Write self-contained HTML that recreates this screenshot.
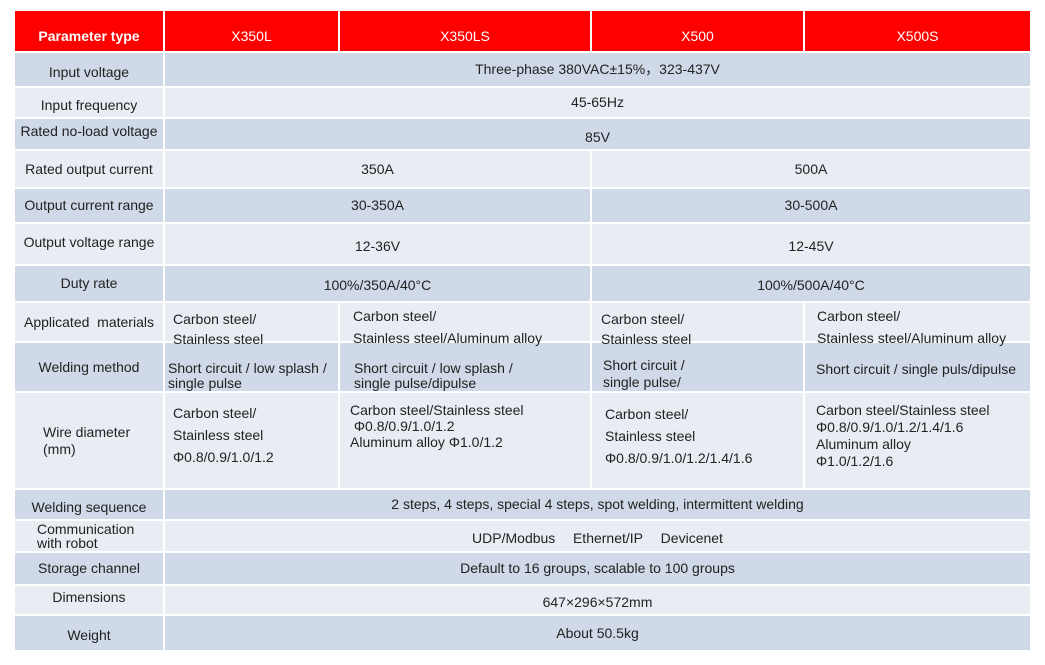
<!DOCTYPE html>
<html><head><style>
body{margin:0;width:1045px;height:665px;background:#fff;position:relative;overflow:hidden;font-family:"Liberation Sans","Noto Sans CJK SC",sans-serif;font-size:14px;color:#222;}
.c{position:absolute;box-sizing:border-box;border-right:2px solid #fff;border-bottom:2px solid #fff;display:flex;align-items:center;justify-content:center;text-align:center;line-height:17px;}
.h{background:#ff0000;color:#fff;padding-top:10px;}
.d{background:#cfd9e7;}
.l{background:#e8ecf3;}
.t{position:absolute;line-height:17px;white-space:nowrap;z-index:5;}
</style></head><body>
<div class="c h" style="left:15px;top:11px;width:150px;height:42px;font-weight:bold">Parameter type</div>
<div class="c h" style="left:165px;top:11px;width:175px;height:42px">X350L</div>
<div class="c h" style="left:340px;top:11px;width:252px;height:42px">X350LS</div>
<div class="c h" style="left:592px;top:11px;width:213px;height:42px">X500</div>
<div class="c h" style="left:805px;top:11px;width:227px;height:42px">X500S</div>

<div class="c d" style="left:15px;top:53px;width:150px;height:35px;padding-top:6px">Input voltage</div>
<div class="c d" style="left:165px;top:53px;width:867px;height:35px">Three-phase 380VAC±15%，323-437V</div>
<div class="c l" style="left:15px;top:88px;width:150px;height:31px;padding-top:6px">Input frequency</div>
<div class="c l" style="left:165px;top:88px;width:867px;height:31px">45-65Hz</div>
<div class="c d" style="left:15px;top:119px;width:150px;height:32px;padding-bottom:6px">Rated no-load voltage</div>
<div class="c d" style="left:165px;top:119px;width:867px;height:32px;padding-top:6px">85V</div>
<div class="c l" style="left:15px;top:151px;width:150px;height:38px">Rated output current</div>
<div class="c l" style="left:165px;top:151px;width:427px;height:38px">350A</div>
<div class="c l" style="left:592px;top:151px;width:440px;height:38px">500A</div>
<div class="c d" style="left:15px;top:189px;width:150px;height:35px">Output current range</div>
<div class="c d" style="left:165px;top:189px;width:427px;height:35px">30-350A</div>
<div class="c d" style="left:592px;top:189px;width:440px;height:35px">30-500A</div>
<div class="c l" style="left:15px;top:224px;width:150px;height:42px;padding-bottom:4px">Output voltage range</div>
<div class="c l" style="left:165px;top:224px;width:427px;height:42px;padding-top:4px">12-36V</div>
<div class="c l" style="left:592px;top:224px;width:440px;height:42px;padding-top:4px">12-45V</div>
<div class="c d" style="left:15px;top:266px;width:150px;height:37px">Duty rate</div>
<div class="c d" style="left:165px;top:266px;width:427px;height:37px;padding-top:4px">100%/350A/40°C</div>
<div class="c d" style="left:592px;top:266px;width:440px;height:37px;padding-top:4px">100%/500A/40°C</div>

<div class="c l" style="left:15px;top:303px;width:150px;height:40px">Applicated&nbsp; materials</div>
<div class="c l" style="left:165px;top:303px;width:175px;height:40px"></div>
<div class="c l" style="left:340px;top:303px;width:252px;height:40px"></div>
<div class="c l" style="left:592px;top:303px;width:213px;height:40px"></div>
<div class="c l" style="left:805px;top:303px;width:227px;height:40px"></div>
<div class="t" style="left:173px;top:309px;line-height:20px">Carbon steel/<br>Stainless steel</div>
<div class="t" style="left:353px;top:305px;line-height:22px">Carbon steel/<br>Stainless steel/Aluminum alloy</div>
<div class="t" style="left:601px;top:309px;line-height:20px">Carbon steel/<br>Stainless steel</div>
<div class="t" style="left:817px;top:305px;line-height:22px">Carbon steel/<br>Stainless steel/Aluminum alloy</div>

<div class="c d" style="left:15px;top:343px;width:150px;height:50px">Welding method</div>
<div class="c d" style="left:165px;top:343px;width:175px;height:50px"></div>
<div class="c d" style="left:340px;top:343px;width:252px;height:50px"></div>
<div class="c d" style="left:592px;top:343px;width:213px;height:50px"></div>
<div class="c d" style="left:805px;top:343px;width:227px;height:50px"></div>
<div class="t" style="left:168px;top:361px;line-height:15px">Short circuit / low splash /<br>single pulse</div>
<div class="t" style="left:354px;top:361px;line-height:15px">Short circuit / low splash /<br>single pulse/dipulse</div>
<div class="t" style="left:603px;top:357px;line-height:17px">Short circuit /<br>single pulse/</div>
<div class="t" style="left:816px;top:361px">Short circuit / single puls/dipulse</div>

<div class="c l" style="left:15px;top:393px;width:150px;height:97px;justify-content:flex-start;padding-left:28px;text-align:left">Wire diameter<br>(mm)</div>
<div class="c l" style="left:165px;top:393px;width:175px;height:97px"></div>
<div class="c l" style="left:340px;top:393px;width:252px;height:97px"></div>
<div class="c l" style="left:592px;top:393px;width:213px;height:97px"></div>
<div class="c l" style="left:805px;top:393px;width:227px;height:97px"></div>
<div class="t" style="left:173px;top:402px;line-height:22px">Carbon steel/<br>Stainless steel<br>Φ0.8/0.9/1.0/1.2</div>
<div class="t" style="left:350px;top:402px;line-height:16px">Carbon steel/Stainless steel<br>&nbsp;Φ0.8/0.9/1.0/1.2<br>Aluminum alloy Φ1.0/1.2</div>
<div class="t" style="left:605px;top:403px;line-height:22px">Carbon steel/<br>Stainless steel<br>Φ0.8/0.9/1.0/1.2/1.4/1.6</div>
<div class="t" style="left:816px;top:402px;line-height:17px">Carbon steel/Stainless steel<br>Φ0.8/0.9/1.0/1.2/1.4/1.6<br>Aluminum alloy<br>Φ1.0/1.2/1.6</div>

<div class="c d" style="left:15px;top:490px;width:150px;height:31px;padding-top:6px">Welding sequence</div>
<div class="c d" style="left:165px;top:490px;width:867px;height:31px">2 steps, 4 steps, special 4 steps, spot welding, intermittent welding</div>
<div class="c l" style="left:15px;top:521px;width:150px;height:32px;line-height:14px;justify-content:flex-start;padding-left:22px;text-align:left">Communication<br>with robot</div>
<div class="c l" style="left:165px;top:521px;width:867px;height:32px;padding-top:4px;word-spacing:2px">UDP/Modbus&nbsp;&nbsp; Ethernet/IP&nbsp;&nbsp; Devicenet</div>
<div class="c d" style="left:15px;top:553px;width:150px;height:33px">Storage channel</div>
<div class="c d" style="left:165px;top:553px;width:867px;height:33px">Default to 16 groups, scalable to 100 groups</div>
<div class="c l" style="left:15px;top:586px;width:150px;height:30px;padding-bottom:6px">Dimensions</div>
<div class="c l" style="left:165px;top:586px;width:867px;height:30px;padding-top:4px">647×296×572mm</div>
<div class="c d" style="left:15px;top:616px;width:150px;height:36px;padding-top:4px">Weight</div>
<div class="c d" style="left:165px;top:616px;width:867px;height:36px">About 50.5kg</div>
</body></html>
